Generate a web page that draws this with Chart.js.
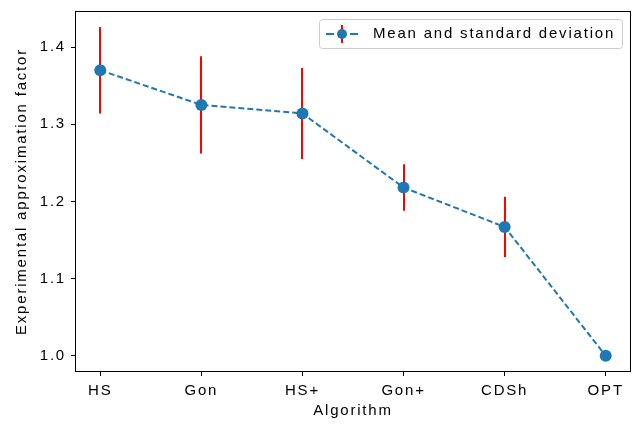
<!DOCTYPE html>
<html>
<head>
<meta charset="utf-8">
<script src="https://cdn.jsdelivr.net/npm/chart.js@4"></script>
<style>
html,body{margin:0;padding:0;background:#fff;}
canvas{display:block;}
</style>
</head>
<body>
<canvas id="c" width="637" height="424"></canvas>
<script>
const categories = ["HS", "Gon", "HS+", "Gon+", "CDSh", "OPT"];
const means = [1.370, 1.325, 1.314, 1.218, 1.167, 1.000];
const stds = [0.056, 0.063, 0.059, 0.030, 0.039, 0.000];
const yTicks = [1.0, 1.1, 1.2, 1.3, 1.4];
const seriesLabel = "Mean and standard deviation";

const BLUE = "#1f77b4";
const FONT = "'Liberation Sans', Arial, sans-serif";
const SPACING = "1.8px";

const spacing = {
  id: "spacing",
  beforeLayout(chart) { chart.ctx.letterSpacing = SPACING; },
  beforeDraw(chart) { chart.ctx.letterSpacing = SPACING; }
};

const errorBars = {
  id: "errorBars",
  beforeDatasetsDraw(chart) {
    const ctx = chart.ctx, xs = chart.scales.x, ys = chart.scales.y;
    ctx.save();
    ctx.strokeStyle = "#ff0000";
    ctx.lineWidth = 2;
    means.forEach((m, i) => {
      if (!stds[i]) return;
      const px = Math.round(xs.getPixelForValue(i));
      ctx.beginPath();
      ctx.moveTo(px, ys.getPixelForValue(m + stds[i]));
      ctx.lineTo(px, ys.getPixelForValue(m - stds[i]));
      ctx.stroke();
    });
    ctx.restore();
  }
};

const frame = {
  id: "frame",
  afterDraw(chart) {
    const ctx = chart.ctx, a = chart.chartArea;
    ctx.save();
    ctx.strokeStyle = "#000";
    ctx.lineWidth = 1;
    ctx.strokeRect(Math.round(a.left) + 0.5, Math.round(a.top) + 0.5,
      Math.round(a.right - a.left) - 1, Math.round(a.bottom - a.top) - 1);
    // legend
    const lx = a.right - 312, ly = a.top + 8, lw = 303, lh = 29;
    ctx.fillStyle = "rgba(255,255,255,0.8)";
    ctx.strokeStyle = "#cccccc";
    ctx.lineWidth = 1;
    ctx.beginPath();
    ctx.roundRect(lx + 0.5, ly + 0.5, lw, lh, 3);
    ctx.fill();
    ctx.stroke();
    const cy = ly + lh / 2 + 0.5;
    ctx.strokeStyle = BLUE;
    ctx.lineWidth = 2;
    ctx.beginPath();
    ctx.moveTo(lx + 7, cy); ctx.lineTo(lx + 15, cy);
    ctx.moveTo(lx + 31, cy); ctx.lineTo(lx + 39, cy);
    ctx.stroke();
    ctx.strokeStyle = "#ff0000";
    ctx.lineWidth = 2;
    ctx.beginPath();
    ctx.moveTo(lx + 23, cy - 9);
    ctx.lineTo(lx + 23, cy + 9);
    ctx.stroke();
    ctx.fillStyle = BLUE;
    ctx.beginPath();
    ctx.arc(lx + 23, cy, 5, 0, Math.PI * 2);
    ctx.fill();
    ctx.fillStyle = "#000";
    ctx.font = "15px " + FONT;
    ctx.textBaseline = "middle";
    ctx.textAlign = "left";
    ctx.letterSpacing = SPACING;
    ctx.fillText(chart.data.datasets[0].label, lx + 54, cy);
    ctx.restore();
  }
};

function noPad(s) {
  s.paddingTop = 0; s.paddingBottom = 0; s.paddingLeft = 0; s.paddingRight = 0;
}

new Chart(document.getElementById("c"), {
  type: "line",
  data: {
    datasets: [{
      label: seriesLabel,
      data: means.map((m, i) => ({ x: i, y: m })),
      borderColor: BLUE,
      backgroundColor: BLUE,
      borderWidth: 2,
      borderDash: [6, 3],
      pointRadius: 6,
      pointHoverRadius: 6,
      pointBackgroundColor: BLUE,
      pointBorderWidth: 0,
      tension: 0,
      fill: false
    }]
  },
  options: {
    responsive: false,
    animation: false,
    devicePixelRatio: 1,
    layout: { padding: { left: 0, top: 11, right: 5, bottom: 0 } },
    plugins: { legend: { display: false }, tooltip: { enabled: false } },
    scales: {
      x: {
        type: "linear",
        min: -0.25,
        max: 5.25,
        afterFit(s) { s.height = 52; noPad(s); },
        grid: { display: true, drawOnChartArea: false, drawTicks: true, tickLength: 4, tickWidth: 1, tickColor: "#000" },
        border: { display: false },
        ticks: {
          stepSize: 1,
          includeBounds: false,
          autoSkip: false,
          maxRotation: 0,
          padding: 6,
          color: "#000",
          font: { family: FONT, size: 15 },
          callback: (v) => Number.isInteger(v) ? categories[v] : ""
        },
        title: { display: true, text: "Algorithm", color: "#000", font: { family: FONT, size: 15 }, padding: { top: 0, bottom: 4 } }
      },
      y: {
        type: "linear",
        min: 0.979,
        max: 1.4467,
        afterFit(s) { s.width = 75; noPad(s); },
        afterBuildTicks(s) { s.ticks = yTicks.map(v => ({ value: v })); },
        grid: { display: true, drawOnChartArea: false, drawTicks: true, tickLength: 4, tickWidth: 1, tickColor: "#000" },
        border: { display: false },
        ticks: {
          padding: 5,
          color: "#000",
          font: { family: FONT, size: 15 },
          callback: (v) => Number(v).toFixed(1)
        },
        title: { display: true, text: "Experimental approximation factor", color: "#000", font: { family: FONT, size: 15 }, padding: { top: 13, bottom: 0 } }
      }
    }
  },
  plugins: [spacing, errorBars, frame]
});
</script>
</body>
</html>
